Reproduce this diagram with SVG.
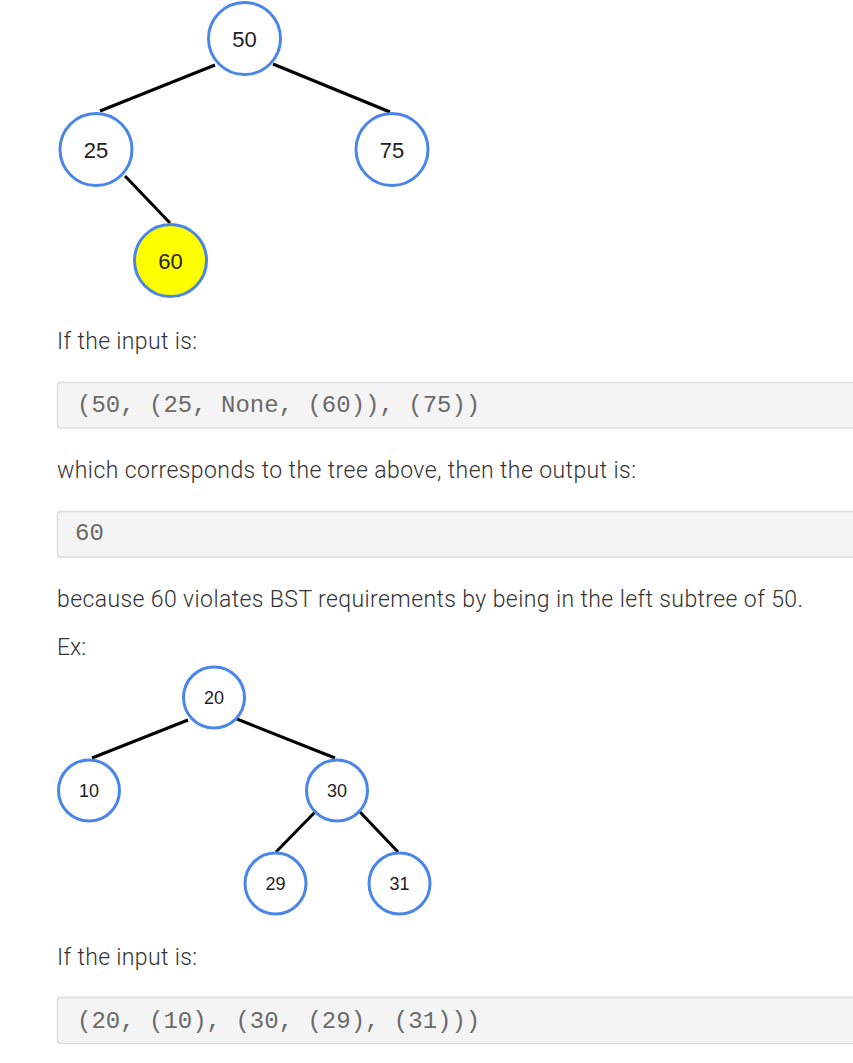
<svg xmlns="http://www.w3.org/2000/svg" width="853" height="1063" viewBox="0 0 853 1063">
<style>
.n circle{fill:#fff;stroke:#4a86e8;stroke-width:3}
.n text{font-family:"Liberation Sans",Arial,sans-serif;fill:#222;text-anchor:middle}
.t1 text{font-size:22px}
.t2 text{font-size:18px}
.e line{stroke:#000;stroke-width:3}
.body{font-family:Roboto,"Liberation Sans",sans-serif;font-weight:300;font-size:23px;fill:#333}
.code{font-family:"Liberation Mono","Courier New",monospace;font-size:24px;fill:#6a6a6a}
.box{fill:#f4f4f4;stroke:#ddd;stroke-width:1.5}
</style>
<rect width="853" height="1063" fill="#fff"/>

<g id="connectors1" class="e">
<line x1="215" y1="65" x2="100" y2="111"/>
<line x1="273" y1="64" x2="390" y2="112"/>
<line x1="125" y1="176" x2="170" y2="223"/>
</g>
<g id="node50" class="n t1"><circle cx="244.5" cy="38.5" r="36"/><text x="244.5" y="46.5">50</text></g>
<g id="node25" class="n t1"><circle cx="96" cy="149.5" r="36"/><text x="96" y="157.5">25</text></g>
<g id="node75" class="n t1"><circle cx="392" cy="149.5" r="36"/><text x="392" y="157.5">75</text></g>
<g id="node60" class="n t1"><circle cx="170.5" cy="260.5" r="36" style="fill:#ffff00"/><text x="170.5" y="268.5">60</text></g>

<text class="body" x="57" y="349" textLength="140">If the input is:</text>
<rect class="box" x="57.5" y="382.5" width="810" height="45.5" rx="3"/>
<text class="code" x="77" y="412">(50, (25, None, (60)), (75))</text>

<text class="body" x="57" y="478" textLength="579">which corresponds to the tree above, then the output is:</text>
<rect class="box" x="57.5" y="511.5" width="810" height="45.5" rx="3"/>
<text class="code" x="75" y="540">60</text>

<text class="body" x="57" y="607" textLength="746">because 60 violates BST requirements by being in the left subtree of 50.</text>
<text class="body" x="57" y="655">Ex:</text>

<g id="connectors2" class="e">
<line x1="188" y1="720" x2="92" y2="758"/>
<line x1="237" y1="719" x2="335" y2="758"/>
<line x1="315" y1="812" x2="276" y2="852"/>
<line x1="360" y1="812" x2="398" y2="852"/>
</g>
<g id="node20" class="n t2"><circle cx="214" cy="697.5" r="30.5"/><text x="214" y="704">20</text></g>
<g id="node10" class="n t2"><circle cx="89" cy="790.5" r="30.5"/><text x="89" y="797">10</text></g>
<g id="node30" class="n t2"><circle cx="337" cy="790.5" r="30.5"/><text x="337" y="797">30</text></g>
<g id="node29" class="n t2"><circle cx="275.5" cy="883.5" r="30.5"/><text x="275.5" y="890">29</text></g>
<g id="node31" class="n t2"><circle cx="399.5" cy="883.5" r="30.5"/><text x="399.5" y="890">31</text></g>

<text class="body" x="57" y="965" textLength="140">If the input is:</text>
<rect class="box" x="57.5" y="997.5" width="810" height="46" rx="3"/>
<text class="code" x="77" y="1028">(20, (10), (30, (29), (31)))</text>
</svg>
